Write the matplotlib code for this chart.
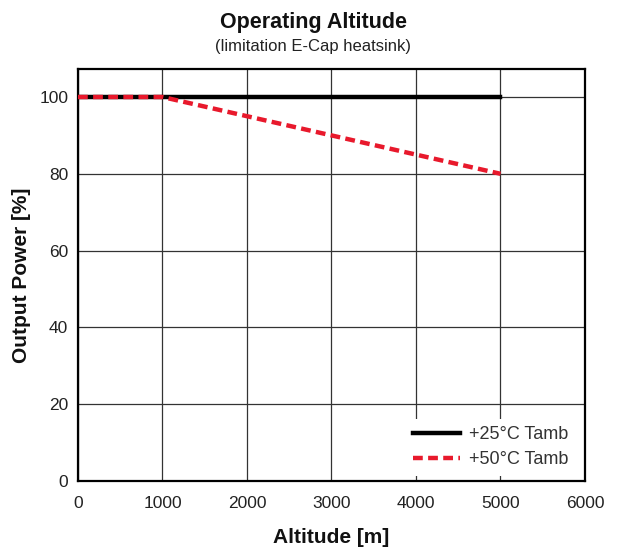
import matplotlib
matplotlib.use("Agg")
import matplotlib.pyplot as plt
from matplotlib import font_manager

names = {f.name for f in font_manager.fontManager.ttflist}
family = "Liberation Sans Narrow" if "Liberation Sans Narrow" in names else "Liberation Sans"
plt.rcParams["font.family"] = [family, "DejaVu Sans"]

altitude = [0, 1000, 2000, 3000, 4000, 5000]
power_25 = [100, 100, 100, 100, 100, 100]
alt_50 = [0, 1000, 5000]
power_50 = [100, 100, 80]

fig = plt.figure(figsize=(6.26, 5.54), dpi=100)
ax = fig.add_axes([0.1246, 0.1318, 0.8099, 0.7437])

ax.plot(altitude, power_25, color="black", linewidth=3.2, label="+25°C Tamb", zorder=3)
ax.plot(alt_50, power_50, color="#e8192c", linewidth=3.2, linestyle=(0, (2.2, 1.2)),
        label="+50°C Tamb", zorder=4)

ax.set_xlim(0, 6000)
ax.set_ylim(0, 107.3)
ax.set_xticks(range(0, 6001, 1000))
ax.set_yticks(range(0, 101, 20))
ax.grid(True, color="#333333", linewidth=0.9)
ax.set_axisbelow(True)
for s in ax.spines.values():
    s.set_linewidth(1.6)
ax.tick_params(axis="both", labelsize=12.5, colors="#222222", length=0)
ax.tick_params(axis="x", pad=11)
ax.tick_params(axis="y", pad=7)

ax.set_xlabel("Altitude [m]", fontsize=15, fontweight="bold", color="#111111", labelpad=12)
ax.set_ylabel("Output Power [%]", fontsize=15, fontweight="bold", color="#111111", labelpad=6)
fig.text(0.5, 0.96, "Operating Altitude", ha="center", va="center",
         fontsize=15.5, fontweight="bold", color="#111111")
fig.text(0.5, 0.916, "(limitation E-Cap heatsink)", ha="center", va="center",
         fontsize=12, color="#222222")

leg = ax.legend(loc="lower right", bbox_to_anchor=(0.992, 0), fontsize=13, frameon=True,
                fancybox=False, edgecolor="none", framealpha=1, handlelength=2.6,
                handletextpad=0.5, borderaxespad=0.3, labelspacing=0.45)
leg.set_zorder(5)
for t in leg.get_texts():
    t.set_color("#333333")

fig.savefig("out.png", dpi=100)
